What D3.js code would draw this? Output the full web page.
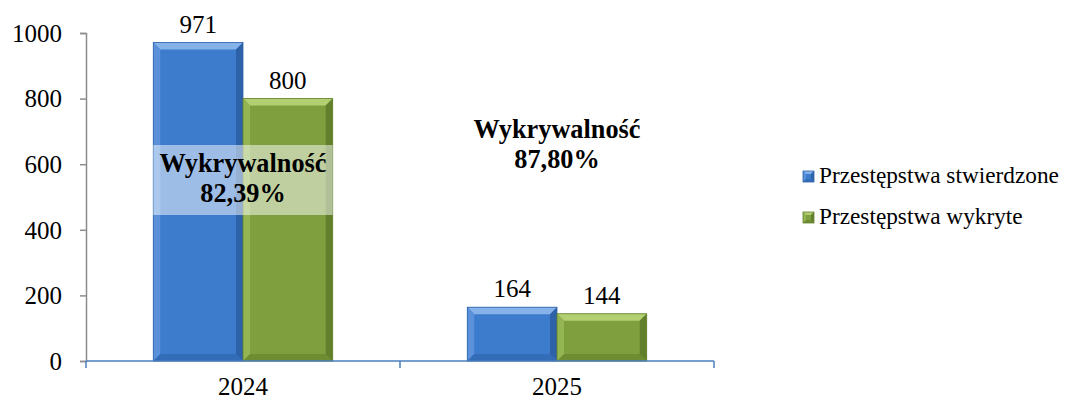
<!DOCTYPE html>
<html>
<head>
<meta charset="utf-8">
<script src="https://cdn.jsdelivr.net/npm/d3@7"></script>
<style>
  body { margin: 0; background: #fff; }
</style>
</head>
<body>
<div id="chart"></div>
<script>
const years = ['2024', '2025'];
const seriesNames = ['Przestępstwa stwierdzone', 'Przestępstwa wykryte'];
const stwierdzone = [971, 164];
const wykryte = [800, 144];
const wykrywalnosc = ['82,39%', '87,80%'];
const yTicks = [0, 200, 400, 600, 800, 1000];

const colors = [
  {base: '#3d7bcc', light: '#86b2ea', dark: '#2d62a8', side: '#5a91da'},
  {base: '#7f9f3e', light: '#b2cf72', dark: '#62802c', side: '#93b552'}
];

const W = 1067, H = 401;
const m = {left: 86, right: 353, top: 33, bottom: 40};
const FONT = '"Liberation Serif"';

const svg = d3.select('#chart').append('svg').attr('width', W).attr('height', H);

// pick font sizes so that text widths match the reference
function fitSize(str, target, bold) {
  const t = svg.append('text').style('font-family', FONT).style('font-size', '20px')
    .style('font-weight', bold ? 'bold' : 'normal').text(str);
  const w = t.node().getComputedTextLength();
  t.remove();
  return 20 * target / w;
}
const FS = fitSize('1000', 50);
const FSB = fitSize('Wykrywalność', 167, true);
const FSL = fitSize(seriesNames[0], 240);

const x = d3.scaleBand().domain(years).range([m.left, W - m.right]);
const sub = d3.scaleBand().domain([0, 1]).range([0, x.bandwidth()]).paddingOuter(0.75).paddingInner(0);
const y = d3.scaleLinear().domain([0, 1000]).range([H - m.bottom, m.top]);

function label(sel, size, bold) {
  return sel.style('font-family', FONT).style('font-size', size + 'px')
    .style('font-weight', bold ? 'bold' : 'normal').attr('fill', '#000');
}

// y axis
const yAxis = svg.append('g').attr('transform', 'translate(' + m.left + ',0)')
  .call(d3.axisLeft(y).tickValues(yTicks).tickFormat(d3.format('d')).tickSize(6).tickPadding(18));
yAxis.select('.domain').attr('stroke', '#8c8c8c').attr('stroke-width', 1.5);
yAxis.selectAll('.tick line').attr('stroke', '#8c8c8c').attr('stroke-width', 1.5);
label(yAxis.selectAll('text'), FS).attr('dy', '0.33em');

const data = years.map((yr, i) => ({year: yr, vals: [stwierdzone[i], wykryte[i]]}));

function bevelBar(g, x0, y0, w, h, c, bv) {
  const b = Math.min(bv, h / 3, w / 3);
  g.append('rect').attr('x', x0).attr('y', y0).attr('width', w).attr('height', h).attr('fill', c.base);
  g.append('path').attr('d', `M${x0},${y0}L${x0 + w},${y0}L${x0 + w - b},${y0 + b}L${x0 + b},${y0 + b}Z`).attr('fill', c.light);
  g.append('path').attr('d', `M${x0},${y0}L${x0 + b},${y0 + b}L${x0 + b},${y0 + h - b}L${x0},${y0 + h}Z`).attr('fill', c.side);
  g.append('path').attr('d', `M${x0 + w},${y0}L${x0 + w},${y0 + h}L${x0 + w - b},${y0 + h - b}L${x0 + w - b},${y0 + b}Z`).attr('fill', c.dark);
  g.append('path').attr('d', `M${x0},${y0 + h}L${x0 + w},${y0 + h}L${x0 + w - b},${y0 + h - b}L${x0 + b},${y0 + h - b}Z`).attr('fill', c.dark).attr('opacity', 0.6);
  g.append('rect').attr('x', x0).attr('y', y0).attr('width', w).attr('height', h)
    .attr('fill', 'none').attr('stroke', c.dark).attr('stroke-width', 0.8);
}

const groups = svg.selectAll('g.year').data(data).enter().append('g')
  .attr('class', 'year').attr('transform', d => 'translate(' + x(d.year) + ',0)');

groups.each(function(d) {
  const g = d3.select(this);
  d.vals.forEach((v, k) => {
    const bx = sub(k), bw = sub.bandwidth();
    bevelBar(g, bx, y(v), bw, y(0) - y(v), colors[k], 7);
    label(g.append('text'), FS).attr('x', bx + bw / 2).attr('y', y(v) - 10)
      .attr('text-anchor', 'middle').text(v);
  });
});

// x axis
const xAxis = svg.append('g').attr('transform', 'translate(0,' + y(0) + ')');
xAxis.append('line').attr('x1', m.left).attr('x2', W - m.right).attr('stroke', '#4a7ebb').attr('stroke-width', 1.5);
const bounds = [m.left].concat(years.map(yr => x(yr) + x.bandwidth()));
xAxis.selectAll('line.tk').data(bounds).enter().append('line').attr('class', 'tk')
  .attr('x1', d => d).attr('x2', d => d).attr('y1', 0).attr('y2', 7)
  .attr('stroke', '#4a7ebb').attr('stroke-width', 1.5);
label(xAxis.selectAll('text').data(years).enter().append('text'), FS)
  .attr('x', d => x(d) + x.bandwidth() / 2).attr('y', 34)
  .attr('text-anchor', 'middle').text(d => d);

// detection rate annotations
svg.append('rect').attr('x', x('2024') + sub(0)).attr('y', 145)
  .attr('width', sub.bandwidth() * 2).attr('height', 70)
  .attr('fill', '#fff').attr('opacity', 0.5);
[['2024', 0, 172], ['2025', 1, 138]].forEach(([yr, i, ty]) => {
  const cx = x(yr) + x.bandwidth() / 2;
  const t = label(svg.append('text'), FSB, true).attr('text-anchor', 'middle')
    .attr('x', cx).attr('y', ty);
  t.append('tspan').attr('x', cx).text('Wykrywalność');
  t.append('tspan').attr('x', cx).attr('dy', 30).text(wykrywalnosc[i]);
});

// legend
const lg = svg.append('g').attr('transform', 'translate(803,171)');
seriesNames.forEach((n, i) => {
  const r = lg.append('g').attr('transform', 'translate(0,' + (i * 41) + ')');
  bevelBar(r, 0, 0, 11, 11, colors[i], 3);
  label(r.append('text'), FSL).attr('x', 16).attr('y', 12).text(n);
});
</script>
</body>
</html>
